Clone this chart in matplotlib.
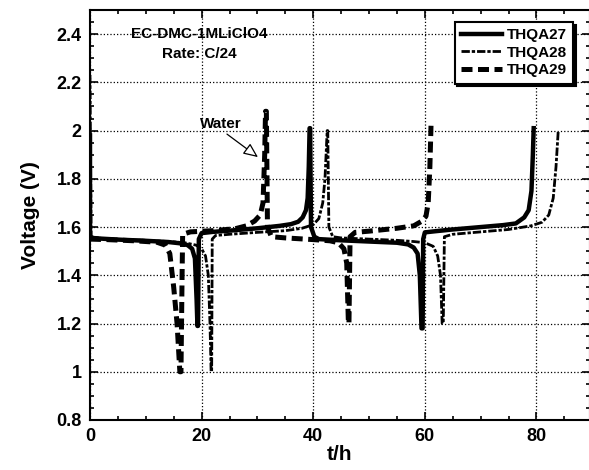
import numpy as np
import matplotlib.pyplot as plt
from matplotlib.ticker import MultipleLocator

plt.rcParams['font.family'] = ['Liberation Sans', 'DejaVu Sans']

# THQA27 - discharge / charge cycles (t in h, voltage in V)
t27 = [0, 0, 0.3, 2, 5, 10, 14, 16, 17.5, 18.3, 18.8, 19.1, 19.25,
       19.35, 19.5, 20, 22, 26, 30, 34, 36, 37.3, 38.1, 38.7, 39.0, 39.2, 39.35,
       39.45, 39.6, 40.2, 41, 45, 50, 55, 57, 58, 58.7, 59.1, 59.4,
       59.6, 59.7, 60, 62, 65, 70, 74, 76.3, 77.8, 78.6, 79.1, 79.35, 79.5]
v27 = [1.98, 1.56, 1.555, 1.552, 1.548, 1.543, 1.538, 1.533, 1.525, 1.51, 1.47, 1.3, 1.19,
       1.19, 1.55, 1.575, 1.58, 1.587, 1.595, 1.605, 1.612, 1.622, 1.64, 1.67, 1.72, 1.85, 2.01,
       2.01, 1.6, 1.56, 1.55, 1.545, 1.54, 1.535, 1.528, 1.515, 1.49, 1.4, 1.18,
       1.18, 1.55, 1.578, 1.583, 1.59, 1.6, 1.608, 1.615, 1.64, 1.67, 1.75, 1.9, 2.01]

# THQA28
t28 = [0, 0.2, 2, 6, 10, 14, 17, 19, 20, 20.7, 21.2, 21.5, 21.7,
       21.8, 21.9, 22.5, 25, 30, 35, 38, 40, 41, 41.7, 42.1, 42.4, 42.5,
       42.6, 42.8, 43.5, 45, 50, 55, 58, 60, 61.5, 62.3, 62.8, 63.1,
       63.3, 63.5, 65, 70, 75, 79, 81, 82.2, 83, 83.5, 83.9]
v28 = [2.23, 1.56, 1.553, 1.548, 1.545, 1.54, 1.535, 1.525, 1.51, 1.48, 1.4, 1.2, 1.0,
       1.0, 1.55, 1.565, 1.57, 1.578, 1.585, 1.595, 1.61, 1.635, 1.7, 1.8, 1.95, 2.0,
       2.0, 1.6, 1.56, 1.555, 1.55, 1.545, 1.54, 1.535, 1.52, 1.48, 1.4, 1.2,
       1.2, 1.56, 1.57, 1.58, 1.59, 1.605, 1.62, 1.65, 1.72, 1.85, 2.0]

# THQA29
t29 = [0, 3, 8, 12, 13.5, 14.3, 15, 15.6, 16.1,
       16.3, 16.5, 16.6, 18, 22, 26, 28, 29.5, 30.5, 31, 31.3, 31.45,
       31.6, 31.8, 32.5, 35, 40, 43, 44.5, 45.5, 46, 46.3,
       46.4, 46.6, 47.5, 50, 55, 58, 59.5, 60.2, 60.6, 60.9, 61.1]
v29 = [1.55, 1.548, 1.543, 1.537, 1.525, 1.49, 1.35, 1.2, 1.0,
       1.0, 1.4, 1.57, 1.58, 1.585, 1.593, 1.605, 1.625, 1.65, 1.7, 1.9, 2.08,
       2.08, 1.6, 1.56, 1.555, 1.548, 1.543, 1.535, 1.51, 1.45, 1.2,
       1.2, 1.56, 1.578, 1.583, 1.595, 1.605, 1.625, 1.645, 1.7, 1.85, 2.02]

fig = plt.figure(figsize=(5.89, 4.70), dpi=100)
ax = fig.add_axes([90 / 589, 50 / 470, 499.5 / 589, 410 / 470])

ax.plot(t27, v27, color='black', lw=3.2, ls='-', label='THQA27', solid_joinstyle='round')
ax.plot(t28, v28, color='black', lw=2.0, ls=(0, (3, 0.7, 1.2, 0.7)), label='THQA28')
ax.plot(t29, v29, color='black', lw=3.6, ls=(0, (2.2, 1.1)), label='THQA29')

ax.set_xlim(0, 89.5)
ax.set_ylim(0.8, 2.5)
ax.xaxis.set_major_locator(MultipleLocator(20))
ax.xaxis.set_minor_locator(MultipleLocator(5))
ax.yaxis.set_major_locator(MultipleLocator(0.2))
ax.yaxis.set_minor_locator(MultipleLocator(0.05))
ax.set_yticks([0.8, 1, 1.2, 1.4, 1.6, 1.8, 2, 2.2, 2.4])
ax.set_yticklabels(['0.8', '1', '1.2', '1.4', '1.6', '1.8', '2', '2.2', '2.4'])
ax.tick_params(which='both', direction='in', top=True, right=True, width=1.2)
ax.tick_params(which='major', length=6, labelsize=13, pad=6)
ax.tick_params(which='minor', length=3)
for lab in ax.get_xticklabels() + ax.get_yticklabels():
    lab.set_fontweight('bold')
for sp in ax.spines.values():
    sp.set_linewidth(1.5)

ax.grid(True, which='major', color='black', ls=':', lw=0.9)

ax.set_xlabel('t/h', fontsize=15, fontweight='bold', labelpad=0)
ax.set_ylabel('Voltage (V)', fontsize=15, fontweight='bold', labelpad=12)

ax.text(19.6, 2.4, 'EC-DMC-1MLiClO4', ha='center', va='center', fontsize=11, fontweight='bold')
ax.text(19.6, 2.317, 'Rate: C/24', ha='center', va='center', fontsize=11, fontweight='bold')

ax.annotate('Water', xy=(30.1, 1.89), xytext=(23.5, 2.026), ha='center', va='center',
            fontsize=11, fontweight='bold',
            arrowprops=dict(arrowstyle='-|>,head_length=0.8,head_width=0.35', fc='white',
                            ec='black', lw=0.9, shrinkA=0, shrinkB=0, relpos=(0.55, 0.0)))

leg = ax.legend(loc='upper right', fontsize=11, frameon=True, fancybox=False,
                shadow={'color': 'black', 'alpha': 1}, handlelength=2.7,
                handletextpad=0.3, labelspacing=0.25, borderpad=0.4,
                bbox_to_anchor=(0.982, 0.99))
leg.get_frame().set_edgecolor('black')
leg.get_frame().set_linewidth(1.5)
for txt in leg.get_texts():
    txt.set_fontweight('bold')

fig.savefig('out.png', dpi=100)
